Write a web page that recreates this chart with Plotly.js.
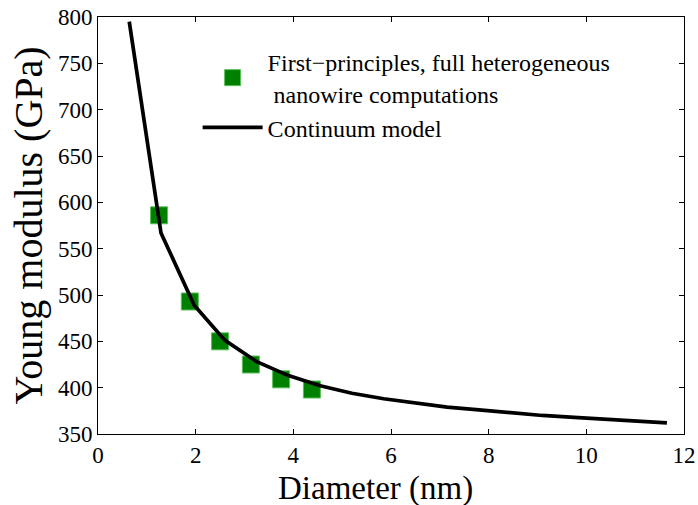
<!DOCTYPE html>
<html>
<head>
<meta charset="utf-8">
<script src="https://cdn.plot.ly/plotly-3.0.1.min.js"></script>
<style>html,body{margin:0;padding:0;background:#fff;}#chart{width:698px;height:505px;}</style>
</head>
<body>
<div id="chart"></div>
<script>
// First-principles data points
const dftDiameter = [1.25, 1.88, 2.50, 3.13, 3.75, 4.38];
const dftModulus = [586, 493, 450, 425, 409, 398];

// Continuum model curve
const modelDiameter = [0.64, 1.29, 1.97, 2.60, 3.25, 3.90, 4.55, 5.20, 5.85, 6.50, 7.15, 7.80, 8.45, 9.10, 9.75, 10.40, 11.05, 11.65];
const modelModulus = [795, 567, 489, 451, 428, 413, 402, 394, 388, 383, 379, 376, 373, 370, 368, 366, 364, 362];

const xTicks = [0, 2, 4, 6, 8, 10, 12];
const yTicks = [350, 400, 450, 500, 550, 600, 650, 700, 750, 800];

const serif = "Liberation Serif";

const traces = [
  {
    x: dftDiameter, y: dftModulus, type: 'scatter', mode: 'markers',
    name: 'First\u2212principles, full heterogeneous<br> nanowire computations',
    marker: {symbol: 'square', size: 17, color: '#008000', line: {color: '#5cbf5c', width: 1}}
  },
  {
    x: modelDiameter, y: modelModulus, type: 'scatter', mode: 'lines',
    name: 'Continuum model',
    line: {color: '#000000', width: 3.7}
  }
];

const axisCommon = {
  showgrid: false, zeroline: false, showline: true, mirror: 'ticks',
  linecolor: '#000', linewidth: 1, ticks: 'inside', ticklen: 5, tickcolor: '#000',
  tickfont: {family: serif, size: 23, color: '#000'}
};

const layout = {
  width: 698, height: 505,
  margin: {l: 98, r: 14, t: 17, b: 71},
  paper_bgcolor: '#fff', plot_bgcolor: '#fff',
  font: {family: serif, color: '#000'},
  showlegend: true,
  legend: {
    x: 0.17, y: 0.945, xanchor: 'left', yanchor: 'top',
    bgcolor: 'rgba(0,0,0,0)', borderwidth: 0,
    itemwidth: 60, tracegroupgap: 0,
    font: {family: serif, size: 24, color: '#000'}
  },
  xaxis: Object.assign({}, axisCommon, {
    range: [0, 12], tickvals: xTicks, ticktext: xTicks.map(String)
  }),
  yaxis: Object.assign({}, axisCommon, {
    range: [350, 800], tickvals: yTicks, ticktext: yTicks.map(String),
    title: {text: 'Young modulus (GPa)', font: {family: serif, size: 40, color: '#000'}, standoff: 2}
  }),
  annotations: [{
    text: 'Diameter (nm)', xref: 'paper', yref: 'paper', x: 0.474, y: -0.082,
    xanchor: 'center', yanchor: 'top', showarrow: false,
    font: {family: serif, size: 33, color: '#000'}
  }]
};

Plotly.newPlot('chart', traces, layout, {displayModeBar: false, staticPlot: true});
</script>
</body>
</html>
